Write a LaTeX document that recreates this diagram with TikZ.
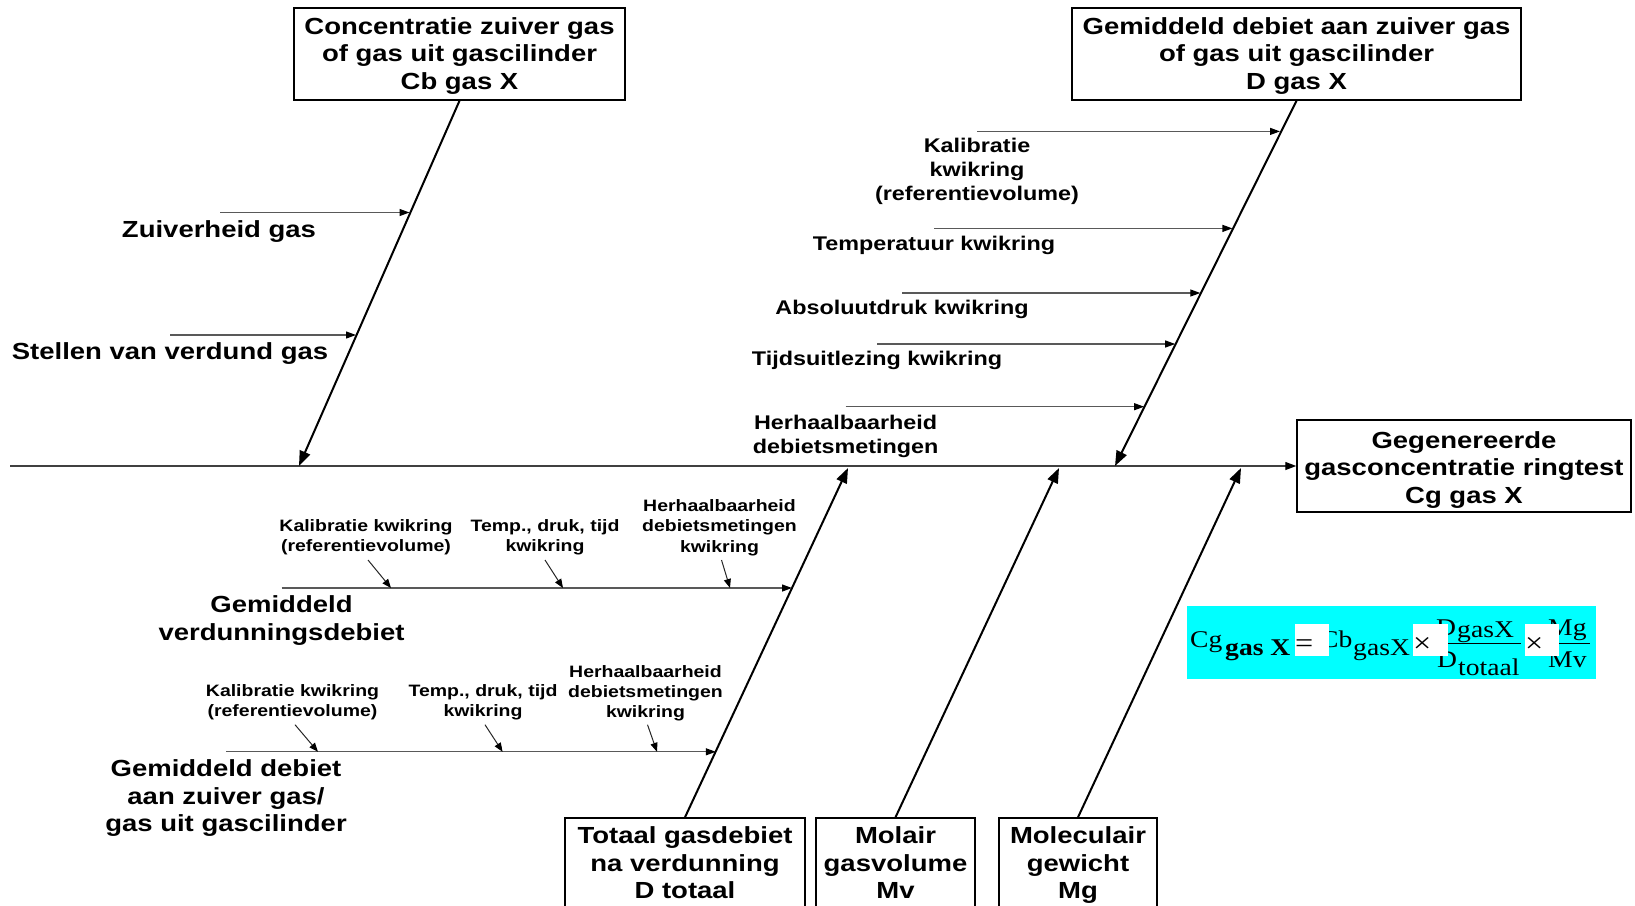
\documentclass[tikz,border=0pt]{standalone}
\usepackage{fontspec}
\usetikzlibrary{arrows.meta}
\newfontfamily\lab[FakeStretch=1.18]{Liberation Sans}
\newfontfamily\fml[FakeStretch=1.15]{Liberation Serif}
\definecolor{aquabg}{RGB}{0,255,255}
\newcommand{\topstrut}[1]{\rule{0pt}{#1}}
\begin{document}
\begin{tikzpicture}[x=1pt,y=-1pt,
  bigt/.style={font=\lab\bfseries\fontsize{23.3}{27.5}\selectfont, align=center, inner sep=0pt,
    execute at begin node=\strut, execute at end node=\strut},
  medt/.style={font=\lab\bfseries\fontsize{19.8}{23.8}\selectfont, align=center, inner sep=0pt,
    execute at begin node=\strut, execute at end node=\strut},
  smallt/.style={font=\lab\bfseries\fontsize{16.5}{20.3}\selectfont, align=center, inner sep=0pt,
    execute at begin node=\strut, execute at end node=\strut},
  box/.style={bigt, draw=black, line width=1.5pt},
  spine/.style={line width=1.3pt, draw=black!75, -{Triangle[length=11pt,width=8pt,color=black]}},
  bone/.style={line width=2pt, draw=black, -{Triangle[length=15pt,width=11pt]}},
  side/.style={line width=1.2pt, draw=black!65, -{Triangle[length=10pt,width=7pt,color=black]}},
  sub/.style={line width=1pt, draw=black!85, -{Triangle[length=9pt,width=7pt,color=black]}},
  fm/.style={font=\fml\fontsize{24}{24}\selectfont, inner sep=0pt, anchor=base west},
  fmb/.style={font=\fml\bfseries\fontsize{24}{24}\selectfont, inner sep=0pt, anchor=base west},
  fsym/.style={font=\fml\fontsize{28}{28}\selectfont, inner sep=0pt, anchor=base west},
  wbox/.style={fill=white, draw=none}
]
\useasboundingbox (0,0) rectangle (1635,905);

% ---------- boxes ----------
\node[box, minimum width=331pt, minimum height=92pt] (TL) at (459.5,54)
  {\topstrut{23.5pt}Concentratie zuiver gas\\of gas uit gascilinder\\Cb gas X};
\node[box, minimum width=449pt, minimum height=92pt] (TR) at (1296.5,54)
  {\topstrut{23.5pt}Gemiddeld debiet aan zuiver gas\\of gas uit gascilinder\\D gas X};
\node[box, minimum width=334pt, minimum height=92pt] (R) at (1464,466)
  {\topstrut{27.5pt}Gegenereerde\\gasconcentratie ringtest\\Cg gas X};
\node[box, minimum width=240pt, minimum height=98pt] (B1) at (685,867)
  {Totaal gasdebiet\\na verdunning\\D totaal};
\node[box, minimum width=159pt, minimum height=98pt] (B2) at (895.5,867)
  {Molair\\gasvolume\\Mv};
\node[box, minimum width=158pt, minimum height=98pt] (B3) at (1078,867)
  {Moleculair\\gewicht\\Mg};

% ---------- spine and bones ----------
\coordinate (S0) at (10,466);
\coordinate (s1) at (299,466);
\coordinate (s2) at (1115,466);
\coordinate (s3) at (848,468);
\coordinate (s4) at (1059,468);
\coordinate (s5) at (1241,468);
\draw[spine] (S0) -- (R.west);
\draw[bone] (TL.south) -- (s1);
\draw[bone] (TR.south) -- (s2);
\draw[bone] (B1.north) -- (s3);
\draw[bone] (B2.north) -- (s4);
\draw[bone] (B3.north) -- (s5);

% ---------- top-left causes ----------
\coordinate (a1) at (220,212.5);  \coordinate (a1e) at (409.5,212.5);
\coordinate (a2) at (170,335);    \coordinate (a2e) at (356,335);
\draw[side] (a1) -- (a1e);
\draw[side] (a2) -- (a2e);
\node[bigt] (l1) at (219,231.5) {Zuiverheid gas};
\node[bigt] (l2) at (170,354) {Stellen van verdund gas};

% ---------- top-right causes ----------
\coordinate (c1) at (977,131.4);   \coordinate (c1e) at (1280,131.4);
\coordinate (c2) at (934,228.4);   \coordinate (c2e) at (1232.4,228.4);
\coordinate (c3) at (902,293);     \coordinate (c3e) at (1200.3,293);
\coordinate (c4) at (877,344);     \coordinate (c4e) at (1175.2,344);
\coordinate (c5) at (845.6,406.7); \coordinate (c5e) at (1144.1,406.7);
\draw[side] (c1) -- (c1e);
\draw[side] (c2) -- (c2e);
\draw[side] (c3) -- (c3e);
\draw[side] (c4) -- (c4e);
\draw[side] (c5) -- (c5e);
\node[medt] (m1) at (977,173) {Kalibratie\\kwikring\\(referentievolume)};
\node[medt] (m2) at (934,245.5) {Temperatuur kwikring};
\node[medt] (m3) at (902,309.5) {Absoluutdruk kwikring};
\node[medt] (m4) at (877,360.5) {Tijdsuitlezing kwikring};
\node[medt] (m5) at (845.6,437.5) {Herhaalbaarheid\\debietsmetingen};

% ---------- bottom-left causes ----------
\coordinate (d1) at (281.5,588);   \coordinate (d1e) at (792,588);
\coordinate (d2) at (226,751.8);   \coordinate (d2e) at (715.8,751.8);
\draw[side] (d1) -- (d1e);
\draw[side] (d2) -- (d2e);
\node[bigt] (g1) at (281.5,622) {Gemiddeld\\verdunningsdebiet};
\node[bigt] (g2) at (226,800) {Gemiddeld debiet\\aan zuiver gas/\\gas uit gascilinder};

% sub causes, upper branch
\node[smallt] (u1) at (366,538.5) {Kalibratie kwikring\\(referentievolume)};
\node[smallt] (u2) at (545,538.5) {Temp., druk, tijd\\kwikring};
\node[smallt] (u3) at (719.5,529) {Herhaalbaarheid\\debietsmetingen\\kwikring};
\coordinate (u1s) at (368,560);   \coordinate (u1e) at (391,588);
\coordinate (u2s) at (545,560);   \coordinate (u2e) at (563,588);
\coordinate (u3s) at (721.5,560); \coordinate (u3e) at (730,588);
\draw[sub] (u1s) -- (u1e);
\draw[sub] (u2s) -- (u2e);
\draw[sub] (u3s) -- (u3e);

% sub causes, lower branch
\node[smallt] (v1) at (292.5,703.7) {Kalibratie kwikring\\(referentievolume)};
\node[smallt] (v2) at (483,703.7) {Temp., druk, tijd\\kwikring};
\node[smallt] (v3) at (645.5,694.5) {Herhaalbaarheid\\debietsmetingen\\kwikring};
\coordinate (v1s) at (295,724.7);   \coordinate (v1e) at (318,751.8);
\coordinate (v2s) at (485,724.7);   \coordinate (v2e) at (502.6,751.8);
\coordinate (v3s) at (647.5,724.7); \coordinate (v3e) at (657,751.8);
\draw[sub] (v1s) -- (v1e);
\draw[sub] (v2s) -- (v2e);
\draw[sub] (v3s) -- (v3e);

% ---------- formula ----------
\fill[aquabg] (1187,606) rectangle (1596,679);
\begin{scope}
\clip (1187,615) rectangle (1596,679);
\node[fm]  (f1)  at (1190,647) {Cg};
\node[fmb] (f2)  at (1225,655) {gas X};
\node[fm]  (f3)  at (1320,647) {Cb};
\node[fm]  (f4)  at (1353,655) {gasX};
\node[fm]  (f5)  at (1436,635) {D};
\node[fm]  (f6)  at (1457,637) {gasX};
\node[fm]  (f7)  at (1437,667) {D};
\node[fm]  (f8)  at (1458,675) {totaal};
\node[fm]  (f9)  at (1548,635) {Mg};
\node[fm]  (f10) at (1548,667) {Mv};
\end{scope}
\draw[line width=1pt] (1448,643) -- (1521,643);
\draw[line width=1pt] (1547,643) -- (1590,643);
\fill[wbox] (1295,624) rectangle (1329,656);
\fill[wbox] (1413,624) rectangle (1448,656);
\fill[wbox] (1525,624) rectangle (1559,656);
\node[fsym] (eq) at (1295,652) {=};
\node[fsym] (x1) at (1413,652) {×};
\node[fsym] (x2) at (1525,652) {×};
\end{tikzpicture}
\end{document}
